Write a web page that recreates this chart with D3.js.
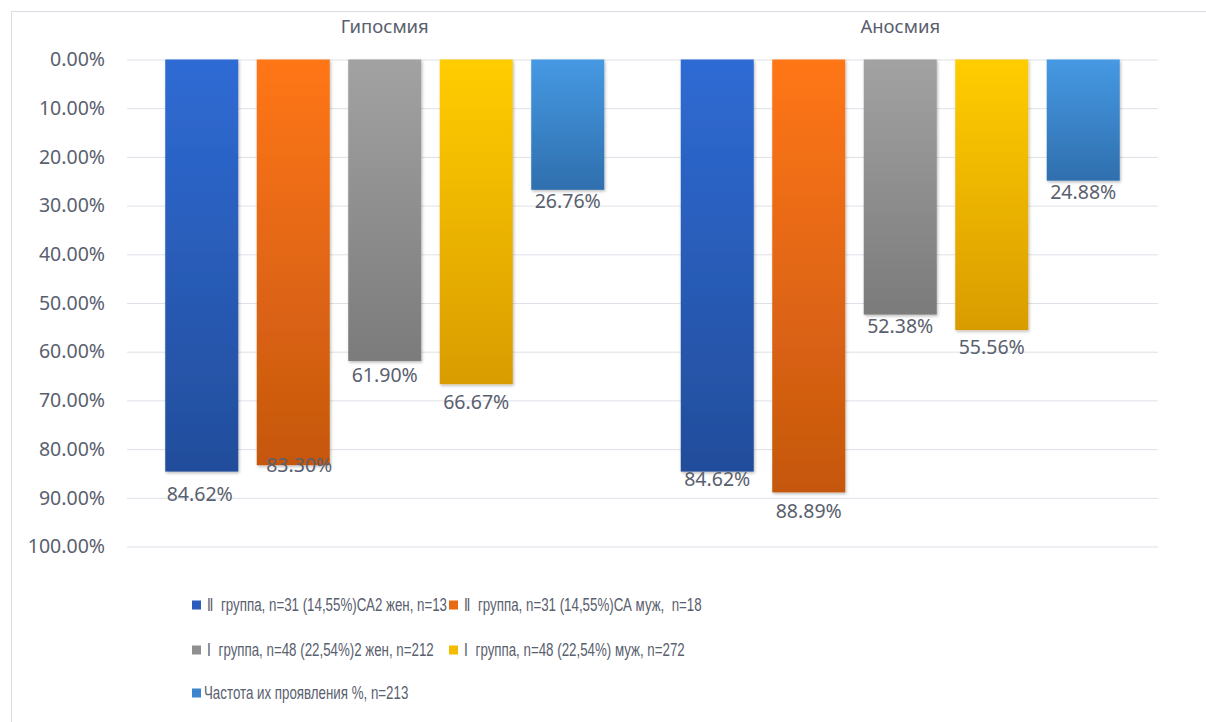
<!DOCTYPE html>
<html>
<head>
<meta charset="utf-8">
<script src="https://cdn.jsdelivr.net/npm/d3@7"></script>
<style>
  html, body { margin: 0; padding: 0; background: #ffffff; }
  svg { display: block; }
</style>
</head>
<body>
<svg id="chart" width="1206" height="722"></svg>
<script>
// ---- data ----
const categories = ["Гипосмия", "Аносмия"];
const seriesNames = [
  "Ⅱ  группа, n=31 (14,55%)СА2 жен, n=13",
  "Ⅱ  группа, n=31 (14,55%)СА муж,  n=18",
  "Ⅰ  группа, n=48 (22,54%)2 жен, n=212",
  "Ⅰ  группа, n=48 (22,54%) муж, n=272",
  "Частота их проявления %, n=213"
];
const groupIIfemale = [0.8462, 0.8462];
const groupIImale   = [0.8330, 0.8889];
const groupIfemale  = [0.6190, 0.5238];
const groupImale    = [0.6667, 0.5556];
const frequency     = [0.2676, 0.2488];
const yTicks = [0, 0.1, 0.2, 0.3, 0.4, 0.5, 0.6, 0.7, 0.8, 0.9, 1.0];

// ---- presentation ----
const seriesValues = [groupIIfemale, groupIImale, groupIfemale, groupImale, frequency];
const gradTop    = ["#2f6bd4", "#ff7618", "#a2a2a2", "#ffcd00", "#4699e3"];
const gradBottom = ["#224d9b", "#c5570f", "#7b7b7b", "#d99c00", "#2f6fae"];
const legendColor= ["#2a5cbd", "#e96a14", "#8f8f8f", "#f2bd00", "#3b86cc"];
// label nudges (px) per series, per category, as placed in the original
const labelDy = [[22, 7.5], [0, 18.5], [14, 11], [17.5, 16.5], [11, 11.5]];
const labelDx = [[-2, 0], [6, 0], [0, 0], [0, 0], [0, 0]];

const textColor = "#59606e";
const gridColor = "#dde1e8";
const svg = d3.select("#chart");

// frame
svg.append("path")
  .attr("d", "M11.5,722 L11.5,11.5 L1206,11.5")
  .attr("fill", "none").attr("stroke", "#d9dde3").attr("stroke-width", 1);

const defs = svg.append("defs");
seriesNames.forEach((s, i) => {
  const g = defs.append("linearGradient").attr("id", "g" + i)
    .attr("x1", 0).attr("y1", 0).attr("x2", 0).attr("y2", 1);
  g.append("stop").attr("offset", "0%").attr("stop-color", gradTop[i]);
  g.append("stop").attr("offset", "100%").attr("stop-color", gradBottom[i]);
});
const f = defs.append("filter").attr("id", "shadow")
  .attr("x", "-20%").attr("y", "-5%").attr("width", "140%").attr("height", "115%");
f.append("feDropShadow").attr("dx", 1).attr("dy", 1.5).attr("stdDeviation", 1.6)
  .attr("flood-color", "#000").attr("flood-opacity", 0.28);

const x0 = d3.scaleBand().domain(categories).range([127, 1158]).paddingInner(0).paddingOuter(0);
const x1 = d3.scaleBand().domain(d3.range(seriesNames.length))
  .range([0, x0.bandwidth()]).paddingInner(0.202).paddingOuter(0.418);
const y = d3.scaleLinear().domain([0, 1]).range([59.5, 546.5]);

// grid + y axis
const yAxis = d3.axisLeft(y).tickValues(yTicks).tickFormat(d3.format(".2%"))
  .tickSize(-(1158 - 127)).tickPadding(22);
const ga = svg.append("g").attr("transform", "translate(127,0)").call(yAxis);
ga.select(".domain").remove();
ga.selectAll(".tick line").attr("stroke", gridColor).attr("stroke-width", 1);
ga.selectAll(".tick text")
  .attr("fill", textColor)
  .style("font-family", "'Noto Sans', sans-serif")
  .style("font-size", "19.5px");

// category titles
svg.selectAll(".cat").data(categories).join("text")
  .attr("class", "cat")
  .attr("x", d => x0(d) + x0.bandwidth() / 2)
  .attr("y", 33)
  .attr("text-anchor", "middle")
  .attr("fill", textColor)
  .style("font-family", "'Noto Sans', sans-serif")
  .style("font-size", "18.5px")
  .text(d => d);

// bars
const rows = [];
seriesValues.forEach((arr, si) => arr.forEach((v, ci) => rows.push({si, ci, v, cat: categories[ci]})));

svg.append("g").selectAll("rect").data(rows).join("rect")
  .attr("x", d => x0(d.cat) + x1(d.si))
  .attr("y", y(0))
  .attr("width", x1.bandwidth())
  .attr("height", d => y(d.v) - y(0))
  .attr("fill", d => "url(#g" + d.si + ")")
  .attr("filter", "url(#shadow)");

// value labels
svg.append("g").selectAll("text").data(rows).join("text")
  .attr("x", d => x0(d.cat) + x1(d.si) + x1.bandwidth() / 2 + labelDx[d.si][d.ci])
  .attr("y", d => y(d.v) + labelDy[d.si][d.ci])
  .attr("dy", "0.36em")
  .attr("text-anchor", "middle")
  .attr("fill", textColor)
  .style("font-family", "'Noto Sans', sans-serif")
  .style("font-size", "19.5px")
  .text(d => d3.format(".2%")(d.v));

// legend
const legendPos = [[192, 605], [449, 605], [192, 650], [449, 650], [192, 693]];
const lg = svg.append("g").selectAll("g").data(seriesNames).join("g")
  .attr("transform", (d, i) => `translate(${legendPos[i][0]},${legendPos[i][1]})`);
lg.append("rect").attr("x", 0).attr("y", -4.5).attr("width", 9).attr("height", 9)
  .attr("fill", (d, i) => legendColor[i]);
lg.append("text")
  .attr("transform", (d, i) => `translate(${i === 4 ? 12 : 15},0) scale(0.72,1)`)
  .attr("x", 0)
  .attr("y", 0).attr("dy", "0.35em")
  .attr("fill", textColor)
  .style("font-family", "'Liberation Sans', sans-serif")
  .style("font-size", "18.5px")
  .style("white-space", "pre")
  .text(d => d);
</script>
</body>
</html>
